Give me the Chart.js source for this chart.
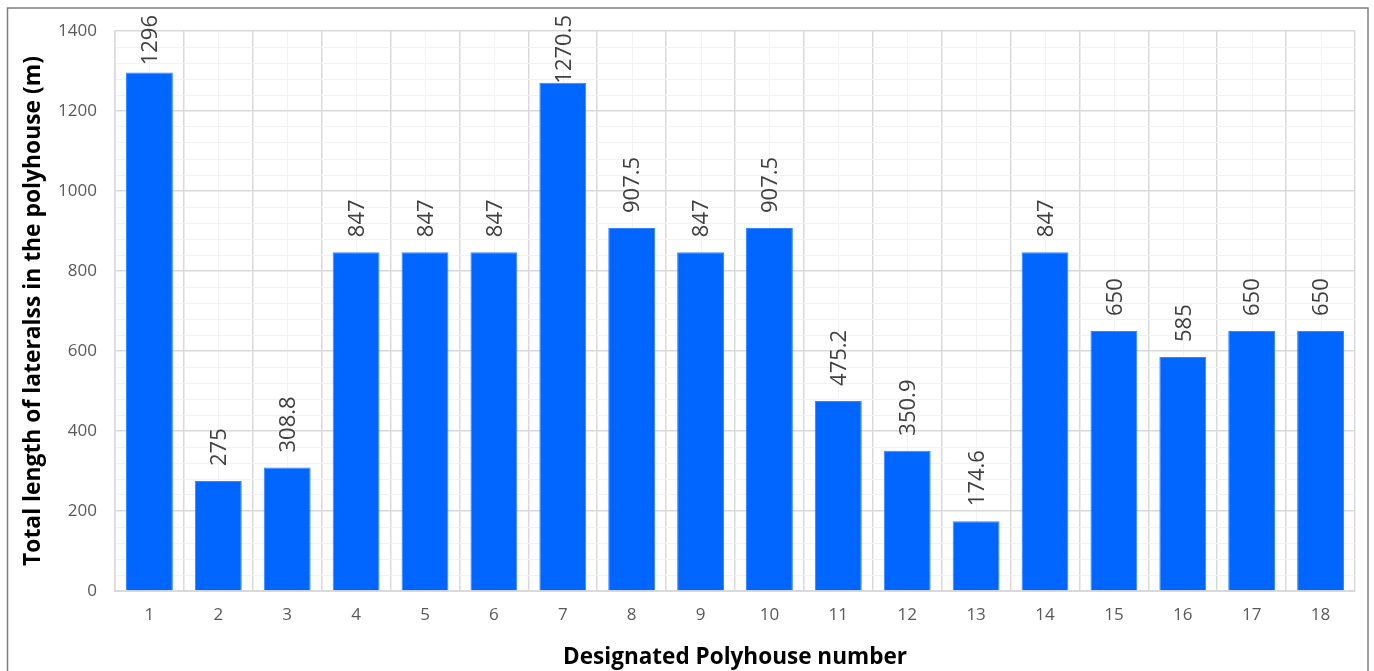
<!DOCTYPE html>
<html>
<head>
<meta charset="utf-8">
<script src="https://cdn.jsdelivr.net/npm/chart.js@4/dist/chart.umd.min.js"></script>
<style>
  html, body { margin: 0; padding: 0; background: #ffffff; overflow: hidden; }
  #wrap { position: relative; width: 1374px; height: 671px; }
</style>
</head>
<body>
<div id="wrap"><canvas id="c" width="1374" height="671"></canvas></div>
<script>
// Polyhouse numbers along the x axis
const polyhouses = ['1','2','3','4','5','6','7','8','9','10','11','12','13','14','15','16','17','18'];
// Total length of laterals in each polyhouse (m)
const lateralLengths = [1296, 275, 308.8, 847, 847, 847, 1270.5, 907.5, 847, 907.5, 475.2, 350.9, 174.6, 847, 650, 585, 650, 650];
// Value axis range: labelled every 200, light lines every 40
const yMin = 0;
const yMax = 1400;
const yMajorStep = 200;
const yMinorStep = 40;

const X_TITLE = 'Designated Polyhouse number';
const Y_TITLE = 'Total length of lateralss in the polyhouse (m)';

const FONT = "'Open Sans', 'Liberation Sans', sans-serif";
const MAJOR_GRID = '#d9d9d9';
const MINOR_GRID = '#f2f2f2';

// Plot box edges on the page
const PLOT_LEFT = 115;
const PLOT_RIGHT = 1355;
const PLOT_TOP = 31;
const PLOT_BOTTOM = 591;

// Size each axis title so it spans a set length
function fitTitleSize(text, span) {
  const m = document.createElement('canvas').getContext('2d');
  m.font = `bold 20px ${FONT}`;
  return +(20 * span / m.measureText(text).width).toFixed(2);
}
const yTitleSize = fitTitleSize(Y_TITLE, 510);
const xTitleSize = fitTitleSize(X_TITLE, 344);
const yTitleLine = yTitleSize * 1.2;
const xTitleLine = xTitleSize * 1.2;
const padLeft = Math.max(0, 33 - yTitleLine / 2);
const padBottom = Math.max(0, 671 - 658 - xTitleLine / 2);

// Light lines through the middle of each category, plus the outer frame
const framePlugin = {
  id: 'frame',
  beforeDraw(chart) {
    const { ctx, chartArea, scales } = chart;
    ctx.save();
    ctx.fillStyle = '#ffffff';
    ctx.fillRect(0, 0, chart.width, chart.height);
    ctx.strokeStyle = MINOR_GRID;
    ctx.lineWidth = 1;
    polyhouses.forEach((_, i) => {
      const x = Math.round(scales.x.getPixelForValue(i)) + 0.5;
      ctx.beginPath();
      ctx.moveTo(x, chartArea.top);
      ctx.lineTo(x, chartArea.bottom);
      ctx.stroke();
    });
    ctx.restore();
  },
  afterDraw(chart) {
    const { ctx } = chart;
    ctx.save();
    ctx.strokeStyle = '#7f7f7f';
    ctx.lineWidth = 1.5;
    ctx.strokeRect(7.5, 8, 1360.5, 700);
    ctx.restore();
  }
};

// Rotated value labels above each bar, kept inside the top edge
const valueLabelPlugin = {
  id: 'valueLabels',
  afterDatasetsDraw(chart) {
    const { ctx } = chart;
    const meta = chart.getDatasetMeta(0);
    ctx.save();
    ctx.font = `22px ${FONT}`;
    ctx.fillStyle = '#404040';
    ctx.textAlign = 'left';
    ctx.textBaseline = 'middle';
    meta.data.forEach((bar, i) => {
      const text = String(lateralLengths[i]);
      const w = ctx.measureText(text).width;
      let start = bar.y - 15;
      const limit = 15;
      if (start - w < limit) start = limit + w;
      ctx.save();
      ctx.translate(bar.x + 1.5, start);
      ctx.rotate(-Math.PI / 2);
      ctx.fillText(text, 0, 0);
      ctx.restore();
    });
    ctx.restore();
  }
};

new Chart(document.getElementById('c'), {
  type: 'bar',
  data: {
    labels: polyhouses,
    datasets: [{
      data: lateralLengths,
      backgroundColor: '#0066ff',
      borderColor: '#3385ff',
      borderWidth: 1,
      barPercentage: 0.68,
      categoryPercentage: 1.0
    }]
  },
  options: {
    responsive: false,
    animation: false,
    events: [],
    layout: { padding: { left: padLeft, right: 1374 - PLOT_RIGHT, top: PLOT_TOP, bottom: padBottom } },
    plugins: {
      legend: { display: false },
      tooltip: { enabled: false }
    },
    scales: {
      x: {
        offset: true,
        grid: { offset: true, color: MAJOR_GRID, lineWidth: 1.5, drawTicks: false },
        border: { display: true, color: MAJOR_GRID, width: 2 },
        ticks: { color: '#595959', font: { family: FONT, size: 17 }, padding: 14 },
        title: {
          display: true,
          text: X_TITLE,
          color: '#000000',
          font: { family: FONT, size: xTitleSize, weight: 'bold', lineHeight: 1.2 },
          padding: 0
        },
        afterFit(scale) { scale.height = 671 - padBottom - PLOT_BOTTOM; }
      },
      y: {
        min: yMin,
        max: yMax,
        grid: {
          color: (c) => (c.tick && c.tick.value % yMajorStep === 0 ? MAJOR_GRID : MINOR_GRID),
          lineWidth: (c) => (c.tick && c.tick.value % yMajorStep === 0 ? 1.5 : 1),
          drawTicks: false
        },
        border: { display: true, color: MAJOR_GRID, width: 1.5 },
        ticks: {
          stepSize: yMinorStep,
          autoSkip: false,
          color: '#595959',
          font: { family: FONT, size: 17 },
          padding: 18,
          callback: (v) => (v % yMajorStep === 0 ? String(v) : '')
        },
        title: {
          display: true,
          text: Y_TITLE,
          color: '#000000',
          font: { family: FONT, size: yTitleSize, weight: 'bold', lineHeight: 1.2 },
          padding: 0
        },
        afterFit(scale) { scale.width = PLOT_LEFT - padLeft; }
      }
    }
  },
  plugins: [framePlugin, valueLabelPlugin]
});
</script>
</body>
</html>
